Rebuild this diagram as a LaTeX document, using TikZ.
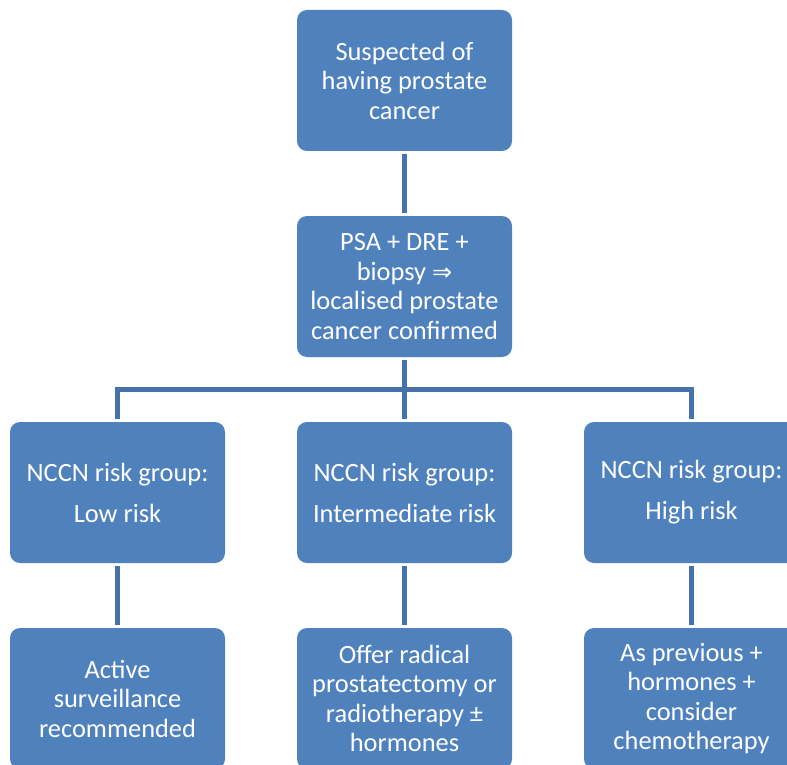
\documentclass[tikz,border=0pt]{standalone}
\usepackage{fontspec}
\setmainfont{Carlito}
\newfontfamily\symfont{DejaVu Sans}
\usepackage{tikz}
\usetikzlibrary{positioning, calc}
\definecolor{boxblue}{HTML}{4F81BD}
\definecolor{lineblue}{HTML}{4673AC}
\tikzstyle{stage} = [rectangle, rounded corners=5pt, minimum width=107.5pt,
                     minimum height=70.5pt, inner sep=2pt, outer sep=0pt,
                     align=center, fill=boxblue, text=white,
                     font=\fontsize{13.2pt}{14.75pt}\selectfont]
\tikzstyle{link}  = [lineblue, line width=2.5pt, shorten <=1.5pt, shorten >=1.5pt]
\begin{document}
\begin{tikzpicture}[node distance=32.5pt and 36pt]
    \useasboundingbox (0,0) rectangle (393.5pt,-382.5pt);
    \fill[white] (0,0) rectangle (393.5pt,-382.5pt);
    \clip (0,0) rectangle (393.5pt,-382.5pt);

    \node (susp) [stage] at (202.25pt,-40.25pt) {Suspected of\\having prostate\\cancer};
    \node (conf) [stage, below=of susp] {PSA + DRE +\\biopsy {\symfont\fontsize{12pt}{14.75pt}\selectfont ⇒}\\localised prostate\\cancer confirmed};
    \node (mid)  [stage, below=of conf] {NCCN risk group:\\[5.75pt]Intermediate risk};
    \node (low)  [stage, left=of mid]   {NCCN risk group:\\[5.75pt]Low risk};
    \node (high) [stage, right=of mid]  {NCCN risk group:\\[5.75pt]High risk};
    \node (lowT)  [stage, below=of low]  {Active\\surveillance\\recommended};
    \node (midT)  [stage, below=of mid]  {Offer radical\\prostatectomy or\\radiotherapy ±\\hormones};
    \node (highT) [stage, below=of high] {As previous +\\hormones +\\consider\\chemotherapy};

    \coordinate (bus) at ($(conf.south)!0.5!(mid.north)$);

    \draw [link] (susp) -- (conf);
    \draw [link] (conf) -- (mid);
    \draw [link] (low.north) |- (bus) -| (high.north);
    \draw [link] (low) -- (lowT);
    \draw [link] (mid) -- (midT);
    \draw [link] (high) -- (highT);
\end{tikzpicture}
\end{document}
